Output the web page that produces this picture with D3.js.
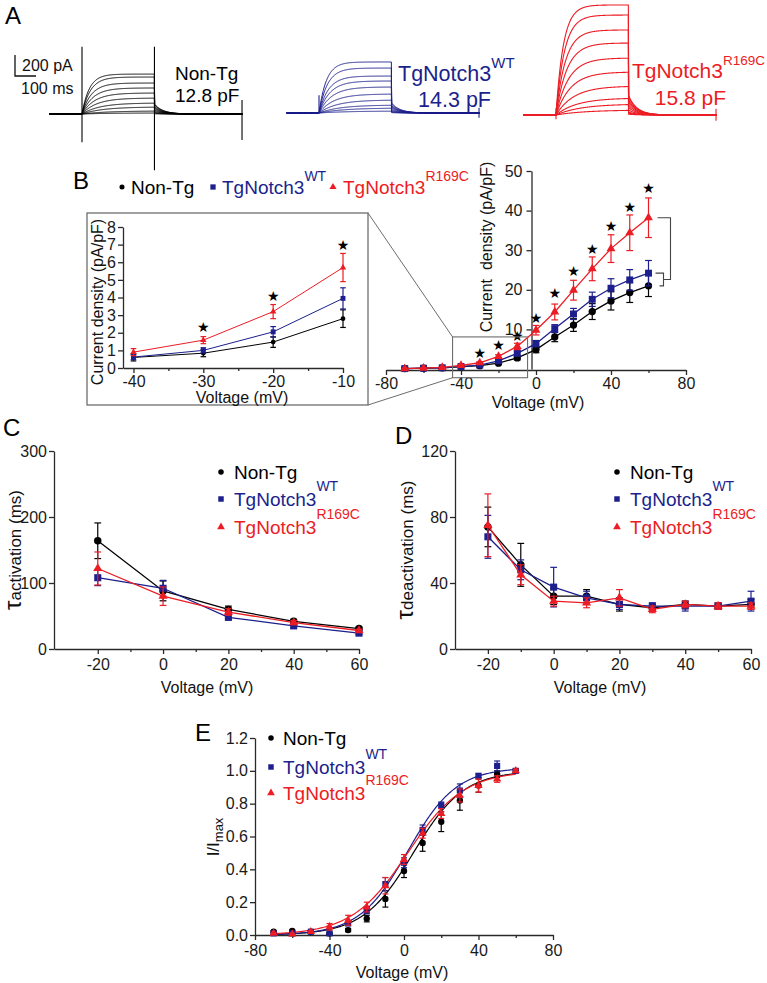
<!DOCTYPE html>
<html>
<head>
<meta charset="utf-8">
<script src="https://cdn.jsdelivr.net/npm/d3@7/dist/d3.min.js"></script>
<style>
  html,body{margin:0;padding:0;background:#fff;}
</style>
</head>
<body>
<svg id="fig" width="767" height="983" xmlns="http://www.w3.org/2000/svg"></svg>
<script>
// ================= DATA =================
const groupNames  = ["Non-Tg", "TgNotch3", "TgNotch3"];
const groupSup    = ["", "WT", "R169C"];
const groupColors = ["#000000", "#1c1f8c", "#ec1c24"];

// ---- A: representative K+ current traces (plateau amplitudes, pA) ----
const capLabels     = ["12.8 pF", "14.3 pF", "15.8 pF"];
const plateauNonTg  = [380, 352, 295, 248, 200, 152, 105, 67, 29, 10];
const plateauWT     = [486, 428, 352, 305, 248, 181, 124, 76, 48, 19];
const plateauR169C  = [1048, 952, 810, 686, 543, 410, 276, 162, 105, 48];
const riseTau       = [35, 40, 45, 52, 60, 70, 85, 100, 120, 140];   // ms, per sweep
const tailFraction  = [0.25, 0.2, 0.18];
const tailTauMs     = 40;
const protocolMs    = [-155, 0, 345, 765];   // start, step on, step off, end
const transientOn   = [[640, -270], [170, 0], [70, -40]];   // pA up / down
const transientOff  = [[640, -535], [0, 0], [0, 0]];
const transientEnd  = [[133, -248], [50, -45], [60, -55]];

// ---- B: current density (pA/pF) ----
const ivVoltage   = [-70, -60, -50, -40, -30, -20, -10, 0, 10, 20, 30, 40, 50, 60];
const ivNonTg     = [0.1, 0.2, 0.3, 0.6, 0.84, 1.47, 2.8, 4.9, 8.1, 11.1, 14.5, 17.2, 19.3, 21.0];
const ivNonTgErr  = [0.1, 0.1, 0.1, 0.2, 0.2, 0.3, 0.5, 0.8, 1.2, 1.6, 2.0, 2.3, 2.5, 2.7];
const ivWT        = [0.1, 0.2, 0.3, 0.62, 1.0, 2.05, 3.95, 6.4, 10.2, 13.9, 17.6, 20.4, 22.5, 24.2];
const ivWTErr     = [0.1, 0.1, 0.1, 0.15, 0.15, 0.3, 0.6, 0.8, 1.0, 1.4, 1.8, 2.4, 2.6, 3.2];
const ivR169C     = [0.1, 0.2, 0.4, 0.9, 1.58, 3.2, 5.7, 9.8, 14.4, 19.9, 25.3, 30.4, 34.4, 38.2];
const ivR169CErr  = [0.1, 0.1, 0.1, 0.2, 0.2, 0.4, 0.8, 1.2, 2.0, 2.5, 3.0, 3.5, 4.5, 5.0];
const starVoltage = [-30, -20, -10, 0, 10, 20, 30, 40, 50, 60];
const starLevelMain  = [4.0, 6.1, 8.2, 12.9, 19.2, 24.6, 30.4, 36.0, 41.0, 45.6];
const insetVoltage   = [-40, -30, -20, -10];
const starLevelInset = [2.3, 4.1, 7.0];   // at -30, -20, -10

// ---- C: activation time constant (ms) ----
const actVoltage   = [-20, 0, 20, 40, 60];
const actNonTg     = [164, 88, 60, 42, 31];
const actNonTgErr  = [27, 15, 5, 3, 2];
const actWT        = [108, 92, 48, 35, 24];
const actWTErr     = [12, 12, 4, 3, 2];
const actR169C     = [122, 80, 56, 40, 28];
const actR169CErr  = [25, 14, 5, 3, 2];

// ---- D: deactivation time constant (ms) ----
const deactVoltage  = [-20, -10, 0, 10, 20, 30, 40, 50, 60];
const deactNonTg    = [74, 51, 32, 32, 27, 25, 27, 26, 27];
const deactNonTgErr = [12, 13, 5, 4, 4, 2, 2, 2, 3];
const deactWT       = [68, 48, 37.5, 31, 27, 26, 26, 26, 29];
const deactWTErr    = [13, 6, 12, 4, 3, 2, 3, 2, 6];
const deactR169C    = [75, 45, 29, 28, 31, 24, 27, 26, 26];
const deactR169CErr = [19, 6, 3, 3, 5, 2, 2, 2, 2];

// ---- E: normalised conductance I/Imax ----
const ssVoltage   = [-70, -60, -50, -40, -30, -20, -10, 0, 10, 20, 30, 40, 50, 60];
const ssNonTg     = [0.02, 0.025, 0.02, 0.01, 0.03, 0.10, 0.22, 0.39, 0.56, 0.69, 0.82, 0.91, 0.98, 1.0];
const ssNonTgErr  = [0.005, 0.005, 0.005, 0.005, 0.01, 0.02, 0.05, 0.04, 0.05, 0.06, 0.06, 0.04, 0.02, 0.01];
const ssWT        = [0.01, 0.01, 0.02, 0.01, 0.07, 0.15, 0.31, 0.44, 0.64, 0.79, 0.88, 0.97, 1.03, 1.0];
const ssWTErr     = [0.005, 0.005, 0.005, 0.005, 0.01, 0.02, 0.04, 0.03, 0.03, 0.02, 0.04, 0.01, 0.03, 0.01];
const ssR169C     = [0.01, 0.005, 0.02, 0.05, 0.09, 0.17, 0.30, 0.46, 0.62, 0.74, 0.85, 0.91, 0.95, 1.0];
const ssR169CErr  = [0.005, 0.005, 0.005, 0.02, 0.03, 0.03, 0.05, 0.03, 0.03, 0.03, 0.04, 0.04, 0.02, 0.01];
const boltzV50 = [5, 2, 2];       // mV (Boltzmann fits)
const boltzK   = [13.5, 13, 15];  // mV
const boltzMax = [1.0, 1.02, 1.0];

// ================= DRAWING =================
const FONT = '"Liberation Sans", Arial, Helvetica, sans-serif';
const AX = "#2a2a2a";
const svg = d3.select("#fig");
const shapes = [d3.symbolCircle, d3.symbolSquare, d3.symbolTriangle];

function txt(g, x, y, s, size, color, anchor) {
  return g.append("text").attr("x", x).attr("y", y).text(s)
    .attr("font-family", FONT).attr("font-size", size)
    .attr("fill", color || "#111").attr("text-anchor", anchor || "start");
}
function supText(g, x, y, main, sup, size, supSize, color, supDy, anchor) {
  const t = g.append("text").attr("x", x).attr("y", y)
    .attr("font-family", FONT).attr("font-size", size).attr("fill", color)
    .attr("text-anchor", anchor || "start");
  t.append("tspan").text(main);
  if (sup) t.append("tspan").attr("font-size", supSize).attr("dy", supDy).text(sup);
  return t;
}
function marker(g, shape, x, y, area, color) {
  g.append("path").attr("d", d3.symbol().type(shape).size(area)())
    .attr("transform", `translate(${x},${y})`).attr("fill", color);
}
function styleAxis(sel, fs) {
  sel.attr("font-family", FONT).attr("font-size", fs);
  sel.selectAll("path.domain").attr("stroke", AX).attr("stroke-width", 1.3);
  sel.selectAll(".tick line").attr("stroke", AX).attr("stroke-width", 1.3);
  sel.selectAll(".tick text").attr("fill", "#1a1a1a");
}
function xAxis(g, scale, y, major, minor, fs, pad, fmt) {
  const a = g.append("g").attr("transform", `translate(0,${y})`)
    .call(d3.axisBottom(scale).tickValues(major).tickSize(5).tickSizeOuter(0).tickPadding(pad)
      .tickFormat(fmt || (d => d)));
  styleAxis(a, fs);
  if (minor && minor.length) {
    const m = g.append("g").attr("transform", `translate(0,${y})`)
      .call(d3.axisBottom(scale).tickValues(minor).tickSize(3).tickFormat(""));
    m.select("path.domain").remove();
    styleAxis(m, fs);
  }
  return a;
}
function yAxis(g, scale, x, major, fs, pad, fmt) {
  const a = g.append("g").attr("transform", `translate(${x},0)`)
    .call(d3.axisLeft(scale).tickValues(major).tickSize(5).tickSizeOuter(0).tickPadding(pad)
      .tickFormat(fmt || (d => d)));
  styleAxis(a, fs);
  return a;
}
function rotLabel(g, cx, cy, parts) {
  const t = g.append("text").attr("transform", `translate(${cx},${cy}) rotate(-90)`)
    .attr("text-anchor", "middle").attr("font-family", FONT).attr("fill", "#111")
    .attr("font-size", 16).attr("dy", "0.35em").style("white-space", "pre");
  parts.forEach(p => {
    const s = t.append("tspan").text(p.t).attr("font-size", p.s);
    if (p.dy) s.attr("dy", p.dy);
  });
  return t;
}
function series(g, xs, ys, xv, yv, ev, color, shape, area, opt) {
  const pts = xv.map((v, i) => [v, yv[i], ev ? ev[i] : 0]);
  if (opt.line !== false) {
    g.append("path").datum(pts)
      .attr("d", d3.line().x(d => xs(d[0])).y(d => ys(d[1])))
      .attr("fill", "none").attr("stroke", color).attr("stroke-width", opt.lw || 1.3);
  }
  const cw = opt.cap || 3.3;
  pts.forEach(d => {
    if (!d[2]) return;
    const x = xs(d[0]), y1 = ys(d[1] - d[2]), y2 = ys(d[1] + d[2]);
    g.append("line").attr("x1", x).attr("x2", x).attr("y1", y1).attr("y2", y2)
      .attr("stroke", color).attr("stroke-width", 1.2);
    [y1, y2].forEach(yy => g.append("line").attr("x1", x - cw).attr("x2", x + cw)
      .attr("y1", yy).attr("y2", yy).attr("stroke", color).attr("stroke-width", 1.2));
  });
  pts.forEach(d => marker(g, shape, xs(d[0]), ys(d[1]), area, color));
}
function star(g, x, y, size) {
  g.append("text").attr("x", x).attr("y", y).text("\u2605")
    .attr("font-family", '"DejaVu Sans", sans-serif').attr("font-size", size)
    .attr("text-anchor", "middle").attr("dy", "0.35em").attr("fill", "#000");
}

// ---------- Panel letters ----------
[["A", 5, 24], ["B", 73, 189], ["C", 3, 436], ["D", 395, 444], ["E", 195, 741]]
  .forEach(l => txt(svg, l[1], l[2], l[0], 24, "#000"));

// ---------- Panel A ----------
(function () {
  const g = svg.append("g");
  const pxPerMs = 0.21, pxPerPA = 21 / 200;
  const onsetX = [82, 319, 556];
  const baseY  = [114, 113, 115];
  const sets = [plateauNonTg, plateauWT, plateauR169C];
  const times = d3.range(protocolMs[0], protocolMs[3] + 0.1, 1.5);
  const tOff = protocolMs[2];
  sets.forEach((amps, c) => {
    const xs = d3.scaleLinear().domain([0, 100]).range([onsetX[c], onsetX[c] + 100 * pxPerMs]);
    const ys = d3.scaleLinear().domain([0, 200]).range([baseY[c], baseY[c] - 200 * pxPerPA]);
    const col = groupColors[c];
    amps.forEach((A, i) => {
      const tau = riseTau[i];
      const f = t => {
        if (t < 0) return 0;
        if (t <= tOff) return A * (1 - Math.exp(-t / tau));
        return A * (1 - Math.exp(-tOff / tau)) * tailFraction[c] * Math.exp(-(t - tOff) / tailTauMs);
      };
      g.append("path").attr("d", d3.line().x(t => xs(t)).y(t => ys(f(t)))(times))
        .attr("fill", "none").attr("stroke", col).attr("stroke-width", c === 2 ? 1.1 : 1.0);
    });
    [[0, transientOn[c]], [tOff, transientOff[c]], [protocolMs[3] - 3, transientEnd[c]]].forEach(tr => {
      if (tr[1][0] === 0 && tr[1][1] === 0) return;
      g.append("line").attr("x1", xs(tr[0])).attr("x2", xs(tr[0]))
        .attr("y1", ys(tr[1][0])).attr("y2", ys(tr[1][1]))
        .attr("stroke", col).attr("stroke-width", 1.1);
    });
  });
  // scale bar
  g.append("path").attr("d", "M15,55 L15,76 L36,76").attr("fill", "none")
    .attr("stroke", "#111").attr("stroke-width", 1.3);
  txt(g, 22, 71, "200 pA", 16, "#111");
  txt(g, 21, 94, "100 ms", 16, "#111");
  // labels
  txt(g, 175, 80, groupNames[0], 19, "#000");
  txt(g, 175, 102, capLabels[0], 19, "#000");
  supText(g, 398, 81, groupNames[1], groupSup[1], 21.5, 15, groupColors[1], -13);
  txt(g, 491, 107, capLabels[1], 21.5, groupColors[1], "end");
  supText(g, 765, 78, groupNames[2], groupSup[2], 21, 13.5, groupColors[2], -13, "end");
  txt(g, 726, 105, capLabels[2], 21, groupColors[2], "end");
})();

// ---------- Panel B ----------
(function () {
  const g = svg.append("g");
  const valsB = [ivNonTg, ivWT, ivR169C], errsB = [ivNonTgErr, ivWTErr, ivR169CErr];
  const lx = [122, 213, 333], tx = [131, 222, 343];
  [0, 1, 2].forEach(k => {
    marker(g, shapes[k], lx[k], 187, [20, 28, 22][k], groupColors[k]);
    supText(g, tx[k], 194, groupNames[k], groupSup[k], 19, 14, groupColors[k], -13);
  });
  // main
  const x = d3.scaleLinear().domain([-80, 80]).range([386, 686]);
  const y = d3.scaleLinear().domain([0, 50]).range([369, 171]);
  xAxis(g, x, 370, [-80, -40, 0, 40, 80], [-60, -20, 20, 60], 16, 3);
  yAxis(g, y, x(-2.4), [10, 20, 30, 40, 50], 16, 4);
  txt(g, 538, 408, "Voltage (mV)", 16, "#111", "middle");
  rotLabel(g, 486, 247, [{ t: "Current  density (pA/pF)", s: 16 }]);
  [0, 1, 2].forEach(k => series(g, x, y, ivVoltage, valsB[k], errsB[k], groupColors[k], shapes[k],
    [42, 48, 34][k], { cap: 3.4 }));
  starVoltage.forEach((v, i) => star(g, x(v), y(starLevelMain[i]), 14));
  // significance brackets
  const bx = x(60);
  const br = g.append("g").attr("fill", "none").attr("stroke", "#444").attr("stroke-width", 1.1);
  const yR = y(ivR169C[13]), yW = y(ivWT[13]), yN = y(ivNonTg[13]);
  br.append("path").attr("d", `M${bx + 7},${yW} L${bx + 15},${yW} L${bx + 15},${yN} L${bx + 11},${yN}`);
  br.append("path").attr("d", `M${bx + 9},${yR} L${bx + 22},${yR} L${bx + 22},${(yW + yN) / 2} L${bx + 15},${(yW + yN) / 2}`);
  // zoom box and connectors
  const zx0 = x(-44.5), zx1 = x(-4.5), zy0 = y(8.1), zy1 = y(-2.2);
  const grey = "#6d6d6d";
  g.append("rect").attr("x", zx0).attr("y", zy0).attr("width", zx1 - zx0).attr("height", zy1 - zy0)
    .attr("fill", "none").attr("stroke", grey).attr("stroke-width", 1.1);
  const ib = { x0: 87, y0: 213, x1: 368, y1: 405 };
  g.append("rect").attr("x", ib.x0).attr("y", ib.y0).attr("width", ib.x1 - ib.x0).attr("height", ib.y1 - ib.y0)
    .attr("fill", "none").attr("stroke", grey).attr("stroke-width", 1.3);
  g.append("line").attr("x1", ib.x1).attr("y1", ib.y0).attr("x2", zx0).attr("y2", zy0).attr("stroke", grey).attr("stroke-width", 1);
  g.append("line").attr("x1", ib.x1).attr("y1", ib.y1).attr("x2", zx0).attr("y2", zy1).attr("stroke", grey).attr("stroke-width", 1);
  // inset
  const xi = d3.scaleLinear().domain([-41.5, -10]).range([123, 343]);
  const yi = d3.scaleLinear().domain([0, 8]).range([368, 227]);
  xAxis(g, xi, 368, [-40, -30, -20, -10], [-35, -25, -15], 16, 3);
  yAxis(g, yi, 123, [0, 1, 2, 3, 4, 5, 6, 7, 8], 16, 2);
  txt(g, 242, 403, "Voltage (mV)", 16, "#111", "middle");
  rotLabel(g, 97, 302, [{ t: "Current density (pA/pF)", s: 16 }]);
  const idx = insetVoltage.map(v => ivVoltage.indexOf(v));
  [0, 1, 2].forEach(k => series(g, xi, yi, insetVoltage, idx.map(i => valsB[k][i]), idx.map(i => errsB[k][i]),
    groupColors[k], shapes[k], [18, 24, 18][k], { cap: 2.8, lw: 1.0 }));
  [-30, -20, -10].forEach((v, i) => star(g, xi(v), yi(starLevelInset[i]), 14));
})();

// ---------- legends for C, D, E ----------
function legend3(g, mx, tx, rows, fs, sz) {
  [0, 1, 2].forEach(k => {
    marker(g, shapes[k], mx, rows[k], sz[k], groupColors[k]);
    supText(g, tx, rows[k] + 7, groupNames[k], groupSup[k], fs, 14, groupColors[k], -15);
  });
}

// ---------- Panel C ----------
(function () {
  const g = svg.append("g");
  const x = d3.scaleLinear().domain([-33.4, 60]).range([54, 359]);
  const y = d3.scaleLinear().domain([0, 300]).range([649, 451]);
  xAxis(g, x, 649, [-20, 0, 20, 40, 60], [-10, 10, 30, 50], 16, 5);
  yAxis(g, y, x(-33.4), [0, 100, 200, 300], 16, 2);
  txt(g, 207, 693, "Voltage (mV)", 16, "#111", "middle");
  rotLabel(g, 15, 550, [{ t: "\u03C4", s: 24 }, { t: "activation (ms)", s: 17 }]);
  const v = [actNonTg, actWT, actR169C], e = [actNonTgErr, actWTErr, actR169CErr];
  [0, 1, 2].forEach(k => series(g, x, y, actVoltage, v[k], e[k], groupColors[k], shapes[k],
    [44, 50, 36][k], { cap: 3.4 }));
  legend3(g, 221, 234, [472, 499, 527], 19, [24, 30, 26]);
})();

// ---------- Panel D ----------
(function () {
  const g = svg.append("g");
  const x = d3.scaleLinear().domain([-30, 60]).range([455, 751]);
  const y = d3.scaleLinear().domain([0, 120]).range([649, 451]);
  xAxis(g, x, 649, [-20, 0, 20, 40, 60], [-10, 10, 30, 50], 16, 5);
  yAxis(g, y, x(-30), [0, 40, 80, 120], 16, 2);
  txt(g, 600, 693, "Voltage (mV)", 16, "#111", "middle");
  rotLabel(g, 407, 550, [{ t: "\u03C4", s: 24 }, { t: "deactivation (ms)", s: 17 }]);
  const v = [deactNonTg, deactWT, deactR169C], e = [deactNonTgErr, deactWTErr, deactR169CErr];
  [0, 1, 2].forEach(k => series(g, x, y, deactVoltage, v[k], e[k], groupColors[k], shapes[k],
    [44, 50, 36][k], { cap: 3.4 }));
  legend3(g, 617, 630, [472, 499, 527], 19, [24, 30, 26]);
})();

// ---------- Panel E ----------
(function () {
  const g = svg.append("g");
  const x = d3.scaleLinear().domain([-80, 80]).range([255, 553]);
  const y = d3.scaleLinear().domain([0, 1.2]).range([935, 738]);
  xAxis(g, x, 935, [-80, -40, 0, 40, 80], [-60, -20, 20, 60], 16, 5);
  yAxis(g, y, 255, [0, 0.2, 0.4, 0.6, 0.8, 1.0, 1.2], 16, 2, d3.format(".1f"));
  txt(g, 402, 978, "Voltage (mV)", 16, "#111", "middle");
  rotLabel(g, 213, 837, [{ t: "I/I", s: 17 }, { t: "max", s: 13, dy: "0.3em" }]);
  const v = [ssNonTg, ssWT, ssR169C], e = [ssNonTgErr, ssWTErr, ssR169CErr];
  const vs = d3.range(-70, 60.01, 0.5);
  [0, 1, 2].forEach(k => {
    const fit = vs.map(vv => [vv, boltzMax[k] / (1 + Math.exp((boltzV50[k] - vv) / boltzK[k]))]);
    g.append("path").datum(fit).attr("d", d3.line().x(d => x(d[0])).y(d => y(d[1])))
      .attr("fill", "none").attr("stroke", groupColors[k]).attr("stroke-width", 1.2);
  });
  [0, 1, 2].forEach(k => series(g, x, y, ssVoltage, v[k], e[k], groupColors[k], shapes[k],
    [32, 38, 30][k], { cap: 3.0, line: false }));
  legend3(g, 271, 283, [738, 767, 793], 19, [24, 30, 26]);
})();
</script>
</body>
</html>
